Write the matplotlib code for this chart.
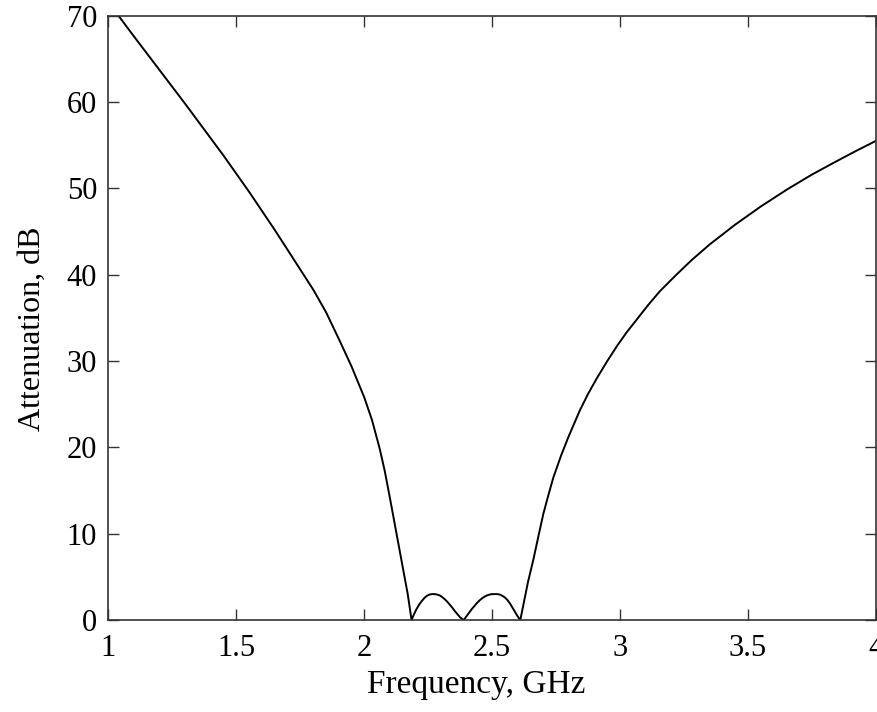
import matplotlib.pyplot as plt

plt.rcParams['font.family'] = ['Liberation Serif', 'DejaVu Serif']

# frequency (GHz) and attenuation (dB)
# lower stopband
freq_lo = [1.00, 1.042, 1.10, 1.20, 1.30, 1.35, 1.40, 1.45, 1.50, 1.55,
           1.60, 1.65, 1.70, 1.75, 1.80, 1.85, 1.90, 1.95, 2.00, 2.03,
           2.06, 2.08, 2.10, 2.12, 2.14, 2.16, 2.17, 2.185]
atten_lo = [71.6, 69.9, 67.6, 63.7, 59.8, 57.8, 55.8, 53.8, 51.7, 49.6,
            47.4, 45.2, 42.9, 40.6, 38.3, 35.7, 32.6, 29.4, 25.8, 23.2,
            19.9, 17.3, 14.2, 11.0, 7.8, 4.6, 3.0, 0.0]
# passband ripple
freq_pb = [2.195, 2.205, 2.215, 2.225, 2.235, 2.245, 2.255, 2.265, 2.275,
           2.285, 2.295, 2.305, 2.315, 2.325, 2.335, 2.345, 2.355, 2.365,
           2.375, 2.389,
           2.40, 2.41, 2.42, 2.43, 2.44, 2.45, 2.46, 2.47, 2.48, 2.49,
           2.50, 2.51, 2.52, 2.53, 2.54, 2.55, 2.56, 2.57, 2.58, 2.59,
           2.60, 2.61]
atten_pb = [0.7, 1.3, 1.8, 2.2, 2.55, 2.8, 2.95, 3.0, 3.0,
            2.95, 2.85, 2.65, 2.4, 2.1, 1.75, 1.4, 1.0, 0.65,
            0.3, 0.0,
            0.45, 0.85, 1.25, 1.6, 1.95, 2.25, 2.5, 2.7, 2.85, 2.95,
            3.0, 3.0, 3.0, 2.95, 2.8, 2.6, 2.3, 1.9, 1.4, 0.9,
            0.4, 0.0]
# upper stopband
freq_hi = [2.625, 2.64, 2.661, 2.68, 2.70, 2.72, 2.739, 2.77, 2.798, 2.843,
           2.875, 2.909, 2.95, 2.987, 3.025, 3.065, 3.11, 3.156, 3.22, 3.28,
           3.35, 3.45, 3.55, 3.654, 3.75, 3.837, 3.92, 4.00]
atten_hi = [2.2, 4.4, 7.0, 9.6, 12.3, 14.5, 16.5, 19.1, 21.2, 24.3,
            26.2, 28.0, 30.0, 31.7, 33.3, 34.8, 36.5, 38.1, 40.0, 41.7,
            43.5, 45.8, 47.9, 49.9, 51.6, 53.0, 54.3, 55.5]

freq = freq_lo + freq_pb + freq_hi
atten = atten_lo + atten_pb + atten_hi

fig = plt.figure(figsize=(8.78, 7.12), dpi=100)
ax = fig.add_axes([0.1234, 0.1292, 0.8743, 0.8488])

ax.plot(freq, atten, color='black', linewidth=1.4)

ax.set_xlim(1, 4)
ax.set_ylim(0, 70)
ax.set_xticks([1, 1.5, 2, 2.5, 3, 3.5, 4])
ax.set_xticklabels(['1', '1.5', '2', '2.5', '3', '3.5', '4'])
ax.set_yticks(range(0, 71, 10))

ax.tick_params(direction='in', top=True, right=True, length=8, width=1,
               labelsize=22, color='#333333')
ax.tick_params(axis='x', pad=10)
ax.tick_params(axis='y', pad=8)
for sp in ax.spines.values():
    sp.set_linewidth(1.2)
    sp.set_color('#333333')

ax.set_xlabel('Frequency, GHz', fontsize=24)
ax.set_ylabel('Attenuation, dB', fontsize=23)
ax.xaxis.set_label_coords(0.479, -0.082)
ax.yaxis.set_label_coords(-0.08, 0.482)

fig.savefig('out.png', dpi=100)
